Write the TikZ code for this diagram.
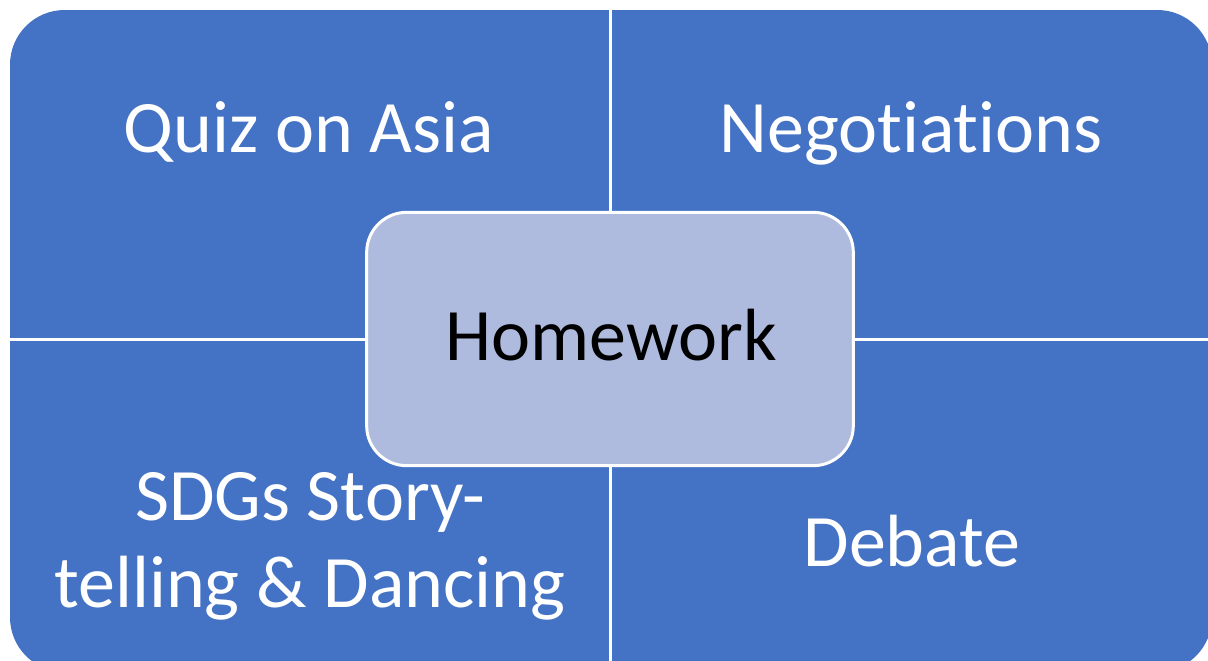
\documentclass[tikz,border=0pt]{standalone}
\usepackage{fontspec}
\setmainfont[Ligatures=NoCommon]{Carlito}
\definecolor{tileblue}{RGB}{68,114,196}
\definecolor{hubfill}{RGB}{175,187,222}
\begin{document}
\begin{tikzpicture}[x=0.75pt,y=-0.75pt,
  bigfont/.style={font=\fontsize{55.5}{65}\selectfont},
  tiletext/.style={bigfont,text=white,inner sep=0pt,align=center},
  hub/.style={rectangle,rounded corners=30pt,fill=hubfill,draw=white,line width=2.25pt,
    minimum width=365pt,minimum height=190pt}]
\useasboundingbox (0,0) rectangle (1208,661);
\clip (0,0) rectangle (1208,661);
% four tiles as one rounded block, split by white gaps
\fill[tileblue,rounded corners=41pt] (10,10) rectangle (1212,672);
\coordinate (vt) at (610,0);
\coordinate (vb) at (610,672);
\coordinate (hl) at (0,339.5);
\coordinate (hr) at (1212,339.5);
\draw[white,line width=2.25pt] (vt) -- (vb);
\draw[white,line width=2.25pt] (hl) -- (hr);
% tile labels
\node[tiletext,anchor=base] (quiz) at (309,152) {Quiz on Asia};
\node[tiletext,anchor=base] (nego) at (911,152) {Negotiations};
\node[tiletext,anchor=base] (sdgs) at (310,607) {SDGs Story-\\telling \& Dancing};
\node[tiletext,anchor=base] (debate) at (912,566) {Debate};
% central hub
\node[hub] (home) at (610,339) {};
\node[bigfont,text=black,inner sep=0pt,anchor=base] (homelabel) at (611,360) {Homework};
\end{tikzpicture}
\end{document}
